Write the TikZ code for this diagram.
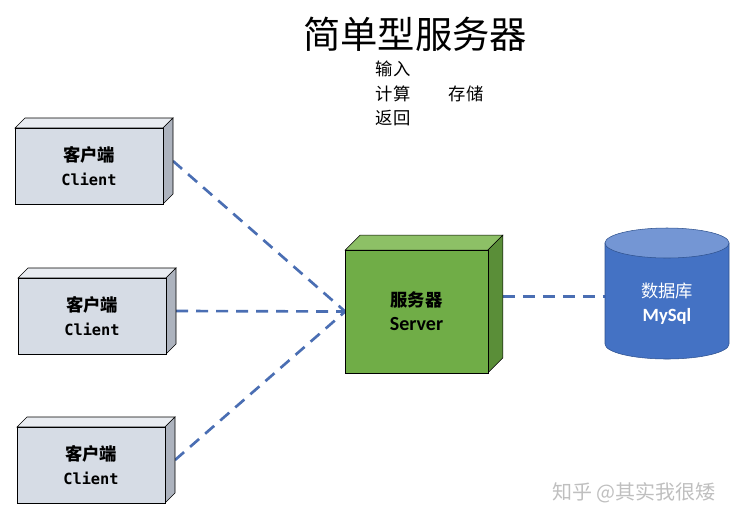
\documentclass[tikz,border=0pt]{standalone}
\usepackage{fontspec}
\newfontfamily\cjk{Noto Sans CJK SC}
\newfontfamily\mono{DejaVu Sans Mono}
\newfontfamily\carl{Carlito}

\begin{document}
\begin{tikzpicture}[x=0.75pt, y=-0.75pt,
    client/.style = {draw, fill=client-front, minimum width=111pt, minimum height=57pt,
                     outer sep=0pt, align=center},
    server/.style = {draw, fill=server-front, minimum width=107pt, minimum height=92pt,
                     outer sep=0pt, align=center},
    link/.style   = {blue-line, line width=2pt, dash pattern=on 9pt off 6pt}
  ]

    \def\d{10}
    \def\ds{15}
    \definecolor{client-front}{HTML}{D6DCE5}
    \definecolor{client-top}{HTML}{E9ECF1}
    \definecolor{client-side}{HTML}{ADB3BE}
    \definecolor{server-front}{HTML}{70AD47}
    \definecolor{server-top}{HTML}{8DC066}
    \definecolor{server-side}{HTML}{5A8E38}
    \definecolor{db-body}{HTML}{4472C4}
    \definecolor{db-top}{HTML}{7496D4}
    \definecolor{db-line}{HTML}{2F528F}
    \definecolor{blue-line}{HTML}{4A6EB3}

    \useasboundingbox (0,0) rectangle (752,526);

    % title and notes
    \node (title) at (415,34) {\cjk\fontsize{28pt}{32pt}\selectfont 简单型服务器};
    \node [anchor=west] (in)  at (371,69)  {\cjk\fontsize{13pt}{15pt}\selectfont 输入};
    \node [anchor=west] (cal) at (371,94)  {\cjk\fontsize{13pt}{15pt}\selectfont 计算};
    \node [anchor=west] (sto) at (444,94)  {\cjk\fontsize{13pt}{15pt}\selectfont 存储};
    \node [anchor=west] (ret) at (371,118) {\cjk\fontsize{13pt}{15pt}\selectfont 返回};

    % connector ends
    \node [client] (c1) at (89,166) {};
    \node [client] (c2) at (92,316) {};
    \node [client] (c3) at (91,465) {};
    \node [server] (srv) at (416.5,311.5) {};
    \node [minimum width=93pt, minimum height=20pt] (db) at (667,304) {};

    \coordinate (c1out) at ([shift={(\d,-\d/2)}]c1.east);
    \coordinate (c2out) at ([shift={(\d,-\d/2)}]c2.east);
    \coordinate (c3out) at ([shift={(\d,-\d/2)}]c3.east);
    \coordinate (srvout) at ([shift={(\ds,-\ds)}]srv.east);

    \draw [link] (c1out) -- (srv.west);
    \draw [link] (c2out) -- (srv.west);
    \draw [link] (c3out) -- (srv.west);
    \draw [link] (srvout) -- (srvout -| db.west);

    % clients
    \foreach \c in {c1,c2,c3} {
        \draw [fill=client-top] (\c.north west) -- ++(\d,-\d) -- ([shift={(\d,-\d)}]\c.north east) -- (\c.north east) -- cycle;
        \draw [fill=client-side] (\c.north east) -- ++(\d,-\d) -- ([shift={(\d,-\d)}]\c.south east) -- (\c.south east) -- cycle;
        \node [client] at (\c) {{\cjk\bfseries\fontsize{13pt}{15pt}\selectfont 客户端}\\[6pt]
                                {\mono\bfseries\fontsize{11.5pt}{14pt}\selectfont Client}};
    }

    % server
    \draw [fill=server-top] (srv.north west) -- ++(\ds,-\ds) -- ([shift={(\ds,-\ds)}]srv.north east) -- (srv.north east) -- cycle;
    \draw [fill=server-side] (srv.north east) -- ++(\ds,-\ds) -- ([shift={(\ds,-\ds)}]srv.south east) -- (srv.south east) -- cycle;
    \node [server] at (srv) {{\cjk\bfseries\fontsize{13pt}{15pt}\selectfont 服务器}\\[6pt]
                             {\carl\bfseries\fontsize{15pt}{16pt}\selectfont Server}};

    % database
    \draw [db-line, fill=db-body] (605,243) -- (605,344) arc[start angle=180, end angle=0, x radius=62, y radius=15] -- (729,243) -- cycle;
    \draw [db-line, fill=db-top] (667,243) ellipse [x radius=62, y radius=15];
    \node [white, align=center] at (db) {{\cjk\fontsize{13pt}{15pt}\selectfont 数据库}\\[6pt]
                                         {\carl\bfseries\fontsize{14pt}{16pt}\selectfont MySql}};

    % watermark
    \node [black!25] (mark) at (634,493) {\cjk\fontsize{15pt}{17pt}\selectfont 知乎 @其实我很矮};

\end{tikzpicture}
\end{document}
